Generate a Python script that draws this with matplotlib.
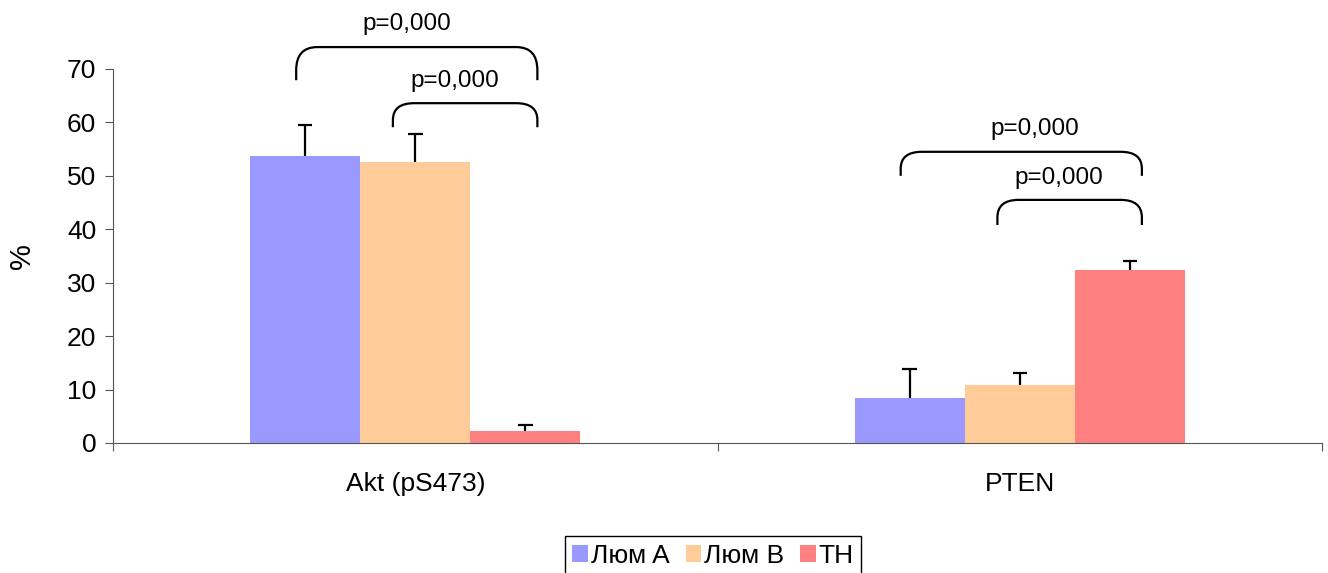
""" Akt / PTEN bar chart with significance brackets """

import numpy as np
import matplotlib.pyplot as plt
from matplotlib.path import Path
from matplotlib.patches import PathPatch

plt.rcParams['font.family'] = ['Liberation Sans', 'DejaVu Sans']

# Data
categories = ['Akt (pS473)', 'PTEN']
series = ['Люм A', 'Люм B', 'TH']
colors = ['#9999FF', '#FFCC99', '#FF8080']
values = [
    [53.8, 8.4],
    [52.6, 10.9],
    [2.2, 32.4],
]
errors = [
    [5.8, 5.4],
    [5.2, 2.2],
    [1.2, 1.7],
]
# brackets: (category, left bar, right bar, label)
brackets = [
    (0, 0, 2, 'p=0,000'),
    (0, 1, 2, 'p=0,000'),
    (1, 0, 2, 'p=0,000'),
    (1, 1, 2, 'p=0,000'),
]
bracket_levels = [(74.1, 67.9), (63.6, 59.1), (54.5, 50.0), (45.5, 40.8)]
label_levels = [78.4, 67.7, 58.8, 49.6]
label_dx = [-0.014, 0.066, 0.025, 0.065]


def bracket(ax, x0, x1, ytop, ybot, rx=0.035):
    """ Curly-ended bracket in data coords """
    ry = (ytop - ybot) * 0.7
    verts = [
        (x0, ybot), (x0, ytop - ry),
        (x0, ytop), (x0 + rx, ytop),
        (x1 - rx, ytop),
        (x1, ytop), (x1, ytop - ry),
        (x1, ybot),
    ]
    codes = [
        Path.MOVETO, Path.LINETO,
        Path.CURVE3, Path.CURVE3,
        Path.LINETO,
        Path.CURVE3, Path.CURVE3,
        Path.LINETO,
    ]
    patch = PathPatch(Path(verts, codes), facecolor='none',
                      edgecolor='black', linewidth=1.6, clip_on=False)
    ax.add_patch(patch)


fig = plt.figure(figsize=(13.28, 5.73), dpi=100)
ax = fig.add_axes([0.0851, 0.2269, 0.9104, 0.6527])

x = np.arange(len(categories))
width = 0.182
cap = 0.012
offsets = [-width, 0, width]
for i, name in enumerate(series):
    xs = x + offsets[i]
    tops = np.array(values[i]) + np.array(errors[i])
    ax.bar(xs, values[i], width, color=colors[i], label=name, zorder=2)
    # upper error bar only, Excel style
    ax.vlines(xs, values[i], tops, color='black', linewidth=1.6, zorder=3)
    ax.hlines(tops, xs - cap, xs + cap, color='black', linewidth=1.6,
              zorder=3)

for (cat, b0, b1, label), (ytop, ybot), ylab, dx in zip(
        brackets, bracket_levels, label_levels, label_dx):
    xl = cat + offsets[b0] - 0.015
    xr = cat + offsets[b1] + 0.02
    if b0 == 1:
        xl = cat - 0.037
    bracket(ax, xl, xr, ytop, ybot)
    ax.text(cat + dx, ylab, label,
            ha='center', va='center', fontsize=17.5, clip_on=False)

ax.set_xlim(-0.5, 1.5)
ax.set_ylim(0, 70)
ax.set_yticks(np.arange(0, 71, 10))
ax.set_xticks([-0.5, 0.5, 1.5])
ax.set_xticklabels([])
ax.set_xticks(x, minor=True)
ax.set_xticklabels(categories, minor=True, fontsize=19)
ax.tick_params(axis='x', which='minor', length=0, pad=21)
ax.tick_params(axis='x', which='major', length=6, color='#555555')
ax.tick_params(axis='y', labelsize=19, length=6, color='#555555', pad=6)
ax.set_ylabel('%', fontsize=21, labelpad=22)
for side in ['top', 'right']:
    ax.spines[side].set_visible(False)
for side in ['left', 'bottom']:
    ax.spines[side].set_color('#555555')

leg = fig.legend(loc='center', bbox_to_anchor=(713 / 1328, 1 - 556 / 573),
                 ncol=3, fontsize=19, handlelength=0.6, handleheight=0.6,
                 handletextpad=0.1, columnspacing=0.6, borderpad=0.3,
                 fancybox=False, edgecolor='black', framealpha=1)
leg.get_frame().set_linewidth(1.0)

fig.savefig('out.png', dpi=100)
